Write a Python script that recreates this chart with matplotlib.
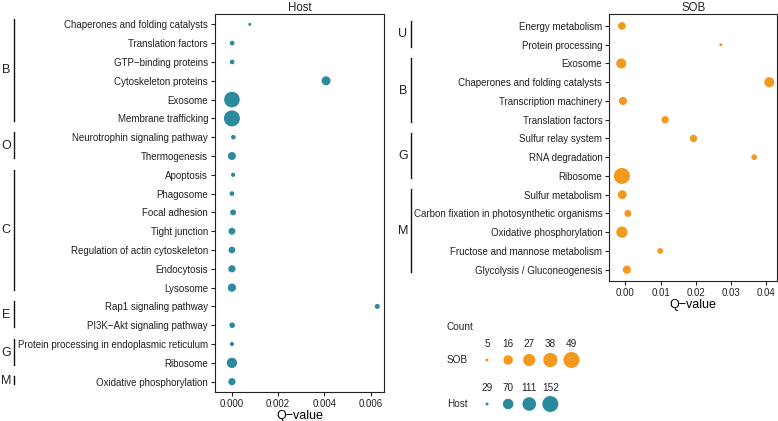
import numpy as np
import matplotlib as mpl
import matplotlib.pyplot as plt
from matplotlib.transforms import blended_transform_factory

# ---- data ----
host_terms = [
    "Chaperones and folding catalysts", "Translation factors", "GTP\u2212binding proteins",
    "Cytoskeleton proteins", "Exosome", "Membrane trafficking",
    "Neurotrophin signaling pathway", "Thermogenesis",
    "Apoptosis", "Phagosome", "Focal adhesion", "Tight junction",
    "Regulation of actin cytoskeleton", "Endocytosis", "Lysosome",
    "Rap1 signaling pathway", "PI3K\u2212Akt signaling pathway",
    "Protein processing in endoplasmic reticulum", "Ribosome",
    "Oxidative phosphorylation",
]
host_q = [0.00078, 0.00002, 0.00002, 0.00407, 0.00001, 0.00001,
          0.00007, 0.00001, 0.00006, 0.00001, 0.00006, 0.00001,
          0.00001, 0.00001, 0.00001, 0.00628, 0.00002, 0.00001,
          0.00001, 0.00001]
host_count = [29, 31, 31, 55, 145, 152, 31, 47, 30, 31, 35, 40, 39, 42,
              49, 32, 34, 30, 68, 42]
host_group_names = ["B", "O", "C", "E", "G", "M"]
host_group_sizes = [6, 2, 7, 2, 2, 1]

sob_terms = [
    "Energy metabolism", "Protein processing", "Exosome",
    "Chaperones and folding catalysts", "Transcription machinery",
    "Translation factors", "Sulfur relay system", "RNA degradation",
    "Ribosome", "Sulfur metabolism",
    "Carbon fixation in photosynthetic organisms", "Oxidative phosphorylation",
    "Fructose and mannose metabolism", "Glycolysis / Gluconeogenesis",
]
sob_q = [-0.0010, 0.0272, -0.0012, 0.0410, -0.0007, 0.0113, 0.0194, 0.0367,
         -0.0010, -0.0009, 0.0007, -0.0010, 0.0099, 0.0004]
sob_count = [11, 5, 18, 18, 12, 10, 10, 7, 49, 14, 9, 23, 7, 12]
sob_group_names = ["U", "B", "G", "M"]
sob_group_sizes = [2, 4, 3, 5]

host_legend = [29, 70, 111, 152]
sob_legend = [5, 16, 27, 38, 49]

HOST_COL = "#2b8a9e"
SOB_COL = "#f39a1e"

mpl.rcParams.update({
    "font.family": ["Liberation Sans", "DejaVu Sans"],
    "axes.linewidth": 0.8,
    "axes.edgecolor": "#222222",
    "text.color": "#222222",
})

W, H = 778, 421


def dot_area(v, lo, hi):
    # diameter in px grows with sqrt of rescaled count (ggplot-like)
    d_px = 3 + 13 * np.sqrt((np.asarray(v, float) - lo) / (hi - lo))
    return (d_px * 0.72) ** 2


def fx(px):
    return px / W


def fy(py):
    return 1 - py / H


def panel(fig, rect, terms, q, count, color, title, xlim, xticks, fmt,
          gnames, gsizes, letter_x, bar_x, pad_top, pad_bot):
    ax = fig.add_axes(rect)
    n = len(terms)
    y = np.arange(n)
    ax.scatter(q, y, s=dot_area(count, min(count), max(count)), color=color,
               edgecolors="none", zorder=3)
    ax.set_ylim(n - 1 + pad_bot, -pad_top)
    ax.set_xlim(*xlim)
    ax.set_yticks(y)
    ax.set_yticklabels(terms)
    ax.set_xticks(xticks)
    ax.set_xticklabels([fmt.format(t) for t in xticks])
    ax.tick_params(length=3, width=0.8, pad=2, labelsize=7.0,
                   color="#222222", labelcolor="#222222")
    ax.set_xlabel("Q\u2212value", fontsize=9, labelpad=1)
    ax.set_title(title, fontsize=8.3, pad=2.5)
    # group brackets on the far left
    tr = blended_transform_factory(fig.transFigure, ax.transData)
    start = 0
    for name, size in zip(gnames, gsizes):
        end = start + size - 1
        ax.plot([bar_x, bar_x], [start - 0.28, end + 0.12], transform=tr,
                color="#111111", lw=1.0, clip_on=False)
        ax.text(letter_x, (start + end) / 2 - 0.05, name, transform=tr,
                ha="center", va="center", fontsize=9)
        start += size
    return ax


fig = plt.figure(figsize=(W / 100, H / 100), dpi=100)

panel(fig, [fx(215), fy(392), fx(384) - fx(215), fy(14) - fy(392)],
      host_terms, host_q, host_count, HOST_COL, "Host",
      (-0.00072, 0.00657), [0, 0.002, 0.004, 0.006], "{:.3f}",
      host_group_names, host_group_sizes, fx(6), fx(13.5), 0.55, 0.55)

panel(fig, [fx(609.3), fy(280.7), fx(777) - fx(609.3), fy(14) - fy(280.7)],
      sob_terms, sob_q, sob_count, SOB_COL, "SOB",
      (-0.0046, 0.0432), [0, 0.01, 0.02, 0.03, 0.04], "{:.2f}",
      sob_group_names, sob_group_sizes, fx(403), fx(411), 0.64, 0.59)

# ---- size legend: rows 0 (SOB) and 1 (Host), columns = legend keys ----
lax = fig.add_axes([fx(440), fy(415), fx(590) - fx(440), fy(318) - fy(415)])
lax.set_xlim(-2.23, 4.88)
lax.set_ylim(1.25, -0.955)
lax.axis("off")
lax.text(-1.91, -0.75, "Count", ha="left", va="center", fontsize=7.2)
rows = [("SOB", sob_legend, SOB_COL, 0), ("Host", host_legend, HOST_COL, 1)]
for name, vals, col, yrow in rows:
    xs = np.arange(len(vals))
    lax.scatter(xs, np.full(len(vals), yrow),
                s=dot_area(vals, min(vals), max(vals)), color=col,
                edgecolors="none", clip_on=False)
    for xv, v in zip(xs, vals):
        lax.text(xv, yrow - 0.37, str(v), ha="center", va="center", fontsize=7.2)
    lax.text(-1.91, yrow, name, ha="left", va="center", fontsize=7.2)

fig.savefig("out.png", dpi=100)
